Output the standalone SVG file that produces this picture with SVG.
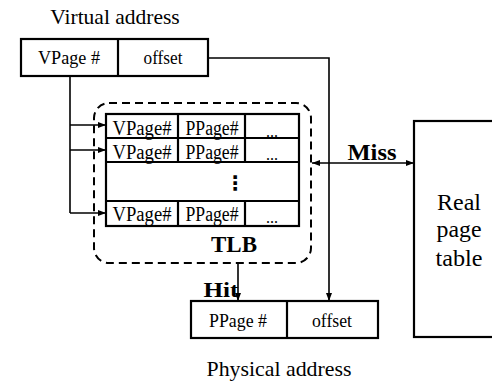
<svg xmlns="http://www.w3.org/2000/svg" width="492" height="381" viewBox="0 0 492 381">
<defs>
<style>
.box{fill:#fff;stroke:#000;stroke-width:2.2}
.ln{fill:none;stroke:#000;stroke-width:1.6}
.t{font-family:"Liberation Serif","Times New Roman",serif;fill:#000}
.b{font-family:"Liberation Serif","Times New Roman",serif;font-weight:bold;fill:#000}
</style>
<marker id="ah" viewBox="0 0 8 8" refX="8" refY="4" markerWidth="8" markerHeight="8" markerUnits="userSpaceOnUse" orient="auto-start-reverse">
<path d="M0,1 L8,4 L0,7 Z" fill="#000"/>
</marker>
</defs>
<rect width="492" height="381" fill="#fff"/>

<g id="virtual-address">
<text class="t" x="115" y="24" font-size="21.5" text-anchor="middle">Virtual address</text>
<rect class="box" x="21" y="39" width="187" height="37"/>
<line class="box" x1="118" y1="39" x2="118" y2="76"/>
<text class="t" x="69" y="64" font-size="18" text-anchor="middle" textLength="62" lengthAdjust="spacingAndGlyphs">VPage #</text>
<text class="t" x="163" y="64" font-size="18" text-anchor="middle" textLength="39" lengthAdjust="spacingAndGlyphs">offset</text>
</g>

<g id="tlb">
<rect x="94" y="103" width="217" height="160" rx="15" ry="15" fill="none" stroke="#000" stroke-width="2" stroke-dasharray="8,5"/>
<rect class="box" x="106" y="114" width="193" height="112"/>
<line class="box" x1="106" y1="138" x2="299" y2="138"/>
<line class="box" x1="106" y1="162" x2="299" y2="162"/>
<line class="box" x1="106" y1="201" x2="299" y2="201"/>
<line class="box" x1="178" y1="114" x2="178" y2="162"/>
<line class="box" x1="245" y1="114" x2="245" y2="162"/>
<line class="box" x1="178" y1="201" x2="178" y2="226"/>
<line class="box" x1="245" y1="201" x2="245" y2="226"/>
<text class="t" x="142" y="135" font-size="20" text-anchor="middle" textLength="59" lengthAdjust="spacingAndGlyphs">VPage#</text>
<text class="t" x="212" y="135" font-size="20" text-anchor="middle" textLength="53" lengthAdjust="spacingAndGlyphs">PPage#</text>
<text class="t" x="272" y="137" font-size="16" text-anchor="middle">...</text>
<text class="t" x="142" y="159" font-size="20" text-anchor="middle" textLength="59" lengthAdjust="spacingAndGlyphs">VPage#</text>
<text class="t" x="212" y="159" font-size="20" text-anchor="middle" textLength="53" lengthAdjust="spacingAndGlyphs">PPage#</text>
<text class="t" x="272" y="160" font-size="16" text-anchor="middle">...</text>
<text x="235" y="190" font-size="20" font-weight="bold" text-anchor="middle" font-family="DejaVu Sans, sans-serif">⋮</text>
<text class="t" x="142" y="221" font-size="20" text-anchor="middle" textLength="59" lengthAdjust="spacingAndGlyphs">VPage#</text>
<text class="t" x="212" y="221" font-size="20" text-anchor="middle" textLength="53" lengthAdjust="spacingAndGlyphs">PPage#</text>
<text class="t" x="272" y="223" font-size="16" text-anchor="middle">...</text>
<text class="b" x="234" y="252" font-size="23" text-anchor="middle" textLength="46" lengthAdjust="spacingAndGlyphs">TLB</text>
</g>

<g id="real-page-table">
<rect class="box" x="414" y="121" width="90" height="216"/>
<text class="t" x="459" y="210" font-size="23" text-anchor="middle" textLength="44" lengthAdjust="spacingAndGlyphs">Real</text>
<text class="t" x="459" y="237" font-size="23" text-anchor="middle" textLength="45" lengthAdjust="spacingAndGlyphs">page</text>
<text class="t" x="459" y="266" font-size="23" text-anchor="middle" textLength="47" lengthAdjust="spacingAndGlyphs">table</text>
</g>

<g id="physical-address">
<rect class="box" x="191" y="301" width="187" height="37"/>
<line class="box" x1="287" y1="301" x2="287" y2="338"/>
<text class="t" x="238" y="327" font-size="18" text-anchor="middle" textLength="58" lengthAdjust="spacingAndGlyphs">PPage #</text>
<text class="t" x="332" y="327" font-size="18" text-anchor="middle" textLength="40" lengthAdjust="spacingAndGlyphs">offset</text>
<text class="t" x="279" y="376" font-size="21.5" text-anchor="middle" textLength="145" lengthAdjust="spacingAndGlyphs">Physical address</text>
</g>

<g id="connectors">
<path class="ln" d="M70,76 V213"/>
<path class="ln" d="M70,125 H106" marker-end="url(#ah)"/>
<path class="ln" d="M70,150 H106" marker-end="url(#ah)"/>
<path class="ln" d="M70,213 H106" marker-end="url(#ah)"/>
<path class="ln" d="M208,58 H329 V301" marker-end="url(#ah)"/>
<path class="ln" d="M312,163 H414" marker-start="url(#ah)" marker-end="url(#ah)"/>
<path class="ln" d="M238,263 V301" marker-end="url(#ah)"/>
<text class="b" x="372" y="160" font-size="23" text-anchor="middle" textLength="49" lengthAdjust="spacingAndGlyphs">Miss</text>
<text class="b" x="221" y="297" font-size="22" text-anchor="middle" textLength="35" lengthAdjust="spacingAndGlyphs">Hit</text>
</g>
</svg>
